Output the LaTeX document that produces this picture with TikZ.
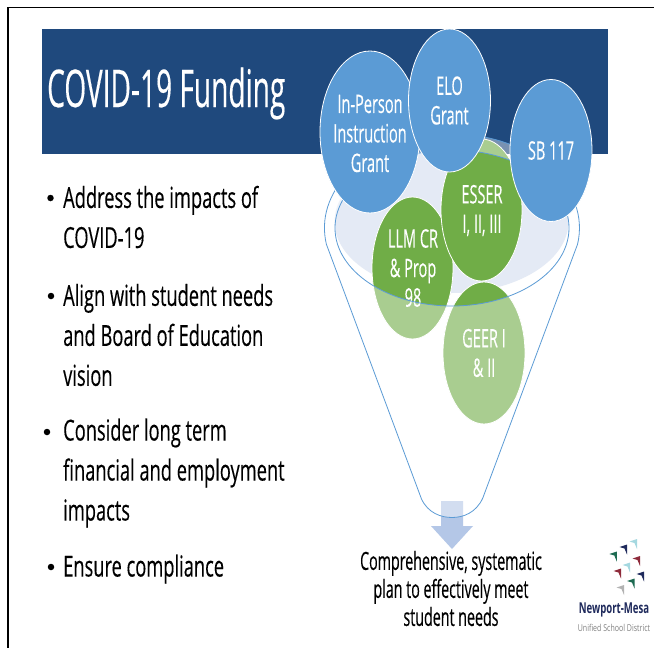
\documentclass[tikz,border=0pt]{standalone}
\usepackage{fontspec}
\setmainfont{Open Sans}[FakeStretch=0.63,FakeBold=0.25]
\newfontfamily\narrowfont{Open Sans}[FakeStretch=0.57,FakeBold=0.25]
\newfontfamily\titlefont{Open Sans}[FakeStretch=0.54,FakeBold=0.25]
\newfontfamily\logofont{Open Sans}[FakeStretch=0.64]
\newfontfamily\logosubfont{Open Sans}[FakeStretch=0.74]
\usetikzlibrary{shapes.geometric}
\definecolor{bannerblue}{HTML}{1F497D}
\definecolor{circblue}{HTML}{5B9BD5}
\definecolor{circgreen}{HTML}{70AD47}
\definecolor{funnelfill}{HTML}{E4EAF5}
\definecolor{arrowblue}{HTML}{B4C7E7}
\definecolor{logonavy}{HTML}{1F2A5C}
\definecolor{logogreen}{HTML}{1E6B52}
\definecolor{logomaroon}{HTML}{8E2A3A}
\definecolor{logolight}{HTML}{A5D8E0}
\tikzset{
  bubble/.style={ellipse,draw=white,line width=0.8pt,inner sep=0pt},
  bluebubble/.style={bubble,fill=circblue},
  greenbubble/.style={bubble,fill=circgreen},
  bubbletext/.style={inner sep=0pt,text=white,align=center,font=\narrowfont\fontsize{25.5}{29.5}\selectfont},
  bodytext/.style={anchor=west,align=left,inner sep=0pt,text=black,font=\fontsize{29}{40}\selectfont},
  bullet/.style={inner sep=0pt,circle,fill=black,minimum size=6.5pt},
  funnelline/.style={draw=circblue,line width=0.8pt},
}
\newcommand{\funnelpath}{(326.4,244.3) arc[start angle=170,end angle=370,x radius=127.5,y radius=94] -- (482.8,498)
  .. controls (476,513) and (463,517.5) .. (452,517.5)
  .. controls (441,517.5) and (428,513) .. (421.5,499) -- cycle}
\newcommand{\logotri}[3]{\fill[#3] (#1,#2+2.5) -- (#1+7.5,#2) -- (#1+7.5,#2+10) -- (#1+5,#2+4) -- cycle;}
\begin{document}
\begin{tikzpicture}[x=1pt,y=-1pt]
\useasboundingbox (0,0) rectangle (654,648);
\fill[white] (0,0) rectangle (654,648);
% slide frame
\draw[black,line width=1.6pt] (8,648) -- (8,7.3) -- (654,7.3);
% title banner
\node[fill=bannerblue,minimum width=566pt,minimum height=125pt,inner sep=0pt,anchor=north west] (banner) at (42,29) {};
\node[anchor=base west,inner sep=0pt,text=white,font=\titlefont\fontsize{52}{60}\selectfont] (title) at (47,107) {COVID-19 Funding};
% body text
\node[bullet] (b1) at (50.5,198) {};
\node[bodytext] (t1) at (63,217) {Address the impacts of\\COVID-19};
\node[bullet] (b2) at (51,296) {};
\node[bodytext] (t2) at (63,335) {Align with student needs\\and Board of Education\\vision};
\node[bullet] (b3) at (47,432) {};
\node[bodytext] (t3) at (63,473) {Consider long term\\financial and employment\\impacts};
\node[bullet] (b4) at (51,567) {};
\node[bodytext] (t4) at (63,569) {Ensure compliance};
% funnel interior
\fill[funnelfill] (451.5,221.5) ellipse [x radius=117,y radius=71.5];
% arrow
\fill[arrowblue] (441,501) -- (463,501) -- (463,526) -- (473,526) -- (452,549) -- (431,526) -- (441,526) -- cycle;
% green bubbles
\node[greenbubble,minimum width=82pt,minimum height=142pt] (geer) at (484,353) {};
\node[bubbletext] (geertext) at (484,353) {GEER I\\\& II};
\node[greenbubble,minimum width=81pt,minimum height=142pt] (llm) at (412.5,268) {};
\node[bubbletext] (llmtext) at (413,268) {LLM CR\\\& Prop\\98};
\node[greenbubble,minimum width=81pt,minimum height=142pt] (esser) at (481.5,210) {};
\node[bubbletext] (essertext) at (482,210.5) {ESSER\\I, II, III};
% translucent funnel body over everything but the mouth
\fill[white,opacity=0.4,even odd rule] \funnelpath (452,228) ellipse [x radius=117,y radius=78];
\draw[funnelline] \funnelpath;
\draw[funnelline] (452,228) ellipse [x radius=117,y radius=78];
% blue bubbles
\node[bluebubble,minimum width=100pt,minimum height=162pt] (inperson) at (370,132) {};
\node[bubbletext] (inpersontext) at (370,133.5) {In-Person\\Instruction\\Grant};
\node[bluebubble,minimum width=82pt,minimum height=143pt] (elo) at (449.5,100.5) {};
\node[bubbletext] (elotext) at (449.5,100.5) {ELO\\Grant};
\node[bluebubble,minimum width=82pt,minimum height=142pt] (sb) at (551,150.5) {};
\node[bubbletext] (sbtext) at (551,150.5) {SB 117};
% outcome text
\node[inner sep=0pt,align=center,text=black,font=\narrowfont\fontsize{25}{28}\selectfont] (plan) at (451,588.5) {Comprehensive, systematic\\plan to effectively meet\\student needs};
% logo
\logotri{609.3}{551.5}{logogreen}
\logotri{619.5}{544.5}{logonavy}
\logotri{629.5}{539}{logolight}
\logotri{622.5}{562.5}{logolight}
\logotri{632.5}{556}{logomaroon}
\logotri{613.5}{568.5}{logomaroon}
\logotri{627}{578.5}{logogreen}
\logotri{636.5}{571.5}{logonavy}
\logotri{616.5}{585}{black!30}
\node[inner sep=0pt,text=logonavy,font=\logofont\fontsize{15}{18}\bfseries\selectfont] (nm) at (614,610) {Newport-Mesa};
\node[inner sep=0pt,text=black!50,font=\logosubfont\fontsize{9.5}{12}\selectfont] (usd) at (614,628) {Unified School District};
\end{tikzpicture}
\end{document}
